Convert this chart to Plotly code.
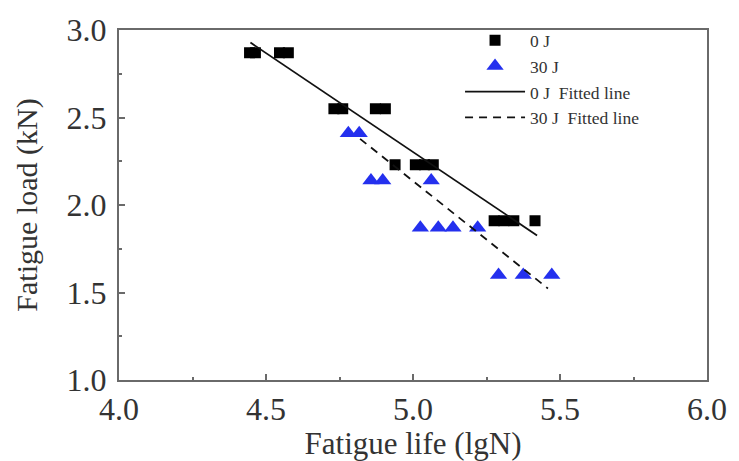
import plotly.graph_objects as go

# 0 J specimens
x0 = [4.444, 4.464, 4.546, 4.576,
      4.731, 4.761, 4.872, 4.906,
      4.939, 5.008, 5.039, 5.069,
      5.276, 5.309, 5.343, 5.415]
y0 = [2.87, 2.87, 2.87, 2.87,
      2.55, 2.55, 2.55, 2.55,
      2.23, 2.23, 2.23, 2.23,
      1.91, 1.91, 1.91, 1.91]

# 30 J specimens
x30 = [4.780, 4.817,
       4.857, 4.897, 5.062,
       5.025, 5.086, 5.136, 5.220,
       5.291, 5.375, 5.472]
y30 = [2.41, 2.41,
       2.14, 2.14, 2.14,
       1.87, 1.87, 1.87, 1.87,
       1.60, 1.60, 1.60]

# fitted lines (end points)
fit0_x = [4.447, 5.422]
fit0_y = [2.928, 1.826]
fit30_x = [4.820, 5.459]
fit30_y = [2.378, 1.523]

FONT = "Liberation Serif"
AX = "#6a6a6a"
TXT = "#333333"
BLUE = "#2430ee"

fig = go.Figure()
fig.add_trace(go.Scatter(x=x0, y=y0, mode="markers", name="0 J",
                         marker=dict(symbol="square", size=11, color="black")))
fig.add_trace(go.Scatter(x=x30, y=y30, mode="markers", name="30 J",
                         marker=dict(symbol="triangle-up", size=15, color=BLUE)))
fig.add_trace(go.Scatter(x=fit0_x, y=fit0_y, mode="lines", name="0 J\u00a0 Fitted line",
                         line=dict(color="#111111", width=1.8)))
fig.add_trace(go.Scatter(x=fit30_x, y=fit30_y, mode="lines", name="30 J\u00a0 Fitted line",
                         line=dict(color="#111111", width=1.8, dash="8px,6px")))

axis_common = dict(
    showline=True, linecolor=AX, linewidth=2, mirror=True,
    ticks="inside", ticklen=6, tickwidth=1.5, tickcolor=AX,
    showgrid=False, zeroline=False, tickformat=".1f",
    tickfont=dict(family=FONT, size=32, color=TXT),
    minor=dict(ticks="inside", ticklen=3, tickcolor=AX, dtick=0.25, showgrid=False),
)

fig.update_xaxes(range=[4.0, 6.0], dtick=0.5, tick0=4.0,
                 title=dict(text="Fatigue life (lgN)", font=dict(family=FONT, size=31, color=TXT), standoff=0),
                 **axis_common)
fig.update_yaxes(range=[1.0, 3.0], dtick=0.5, tick0=1.0, ticklabelstandoff=4,
                 title=dict(text="Fatigue load (kN)", font=dict(family=FONT, size=30, color=TXT), standoff=20),
                 **axis_common)

fig.update_layout(
    width=739, height=461,
    margin=dict(l=119, r=25, t=19, b=79),
    paper_bgcolor="white", plot_bgcolor="white",
    showlegend=True,
    legend=dict(x=0.580, y=1.022, xanchor="left", yanchor="top",
                bgcolor="rgba(0,0,0,0)", itemwidth=60,
                font=dict(family=FONT, size=17.5, color=TXT),
                tracegroupgap=0),
)

fig.write_html("out.html")
